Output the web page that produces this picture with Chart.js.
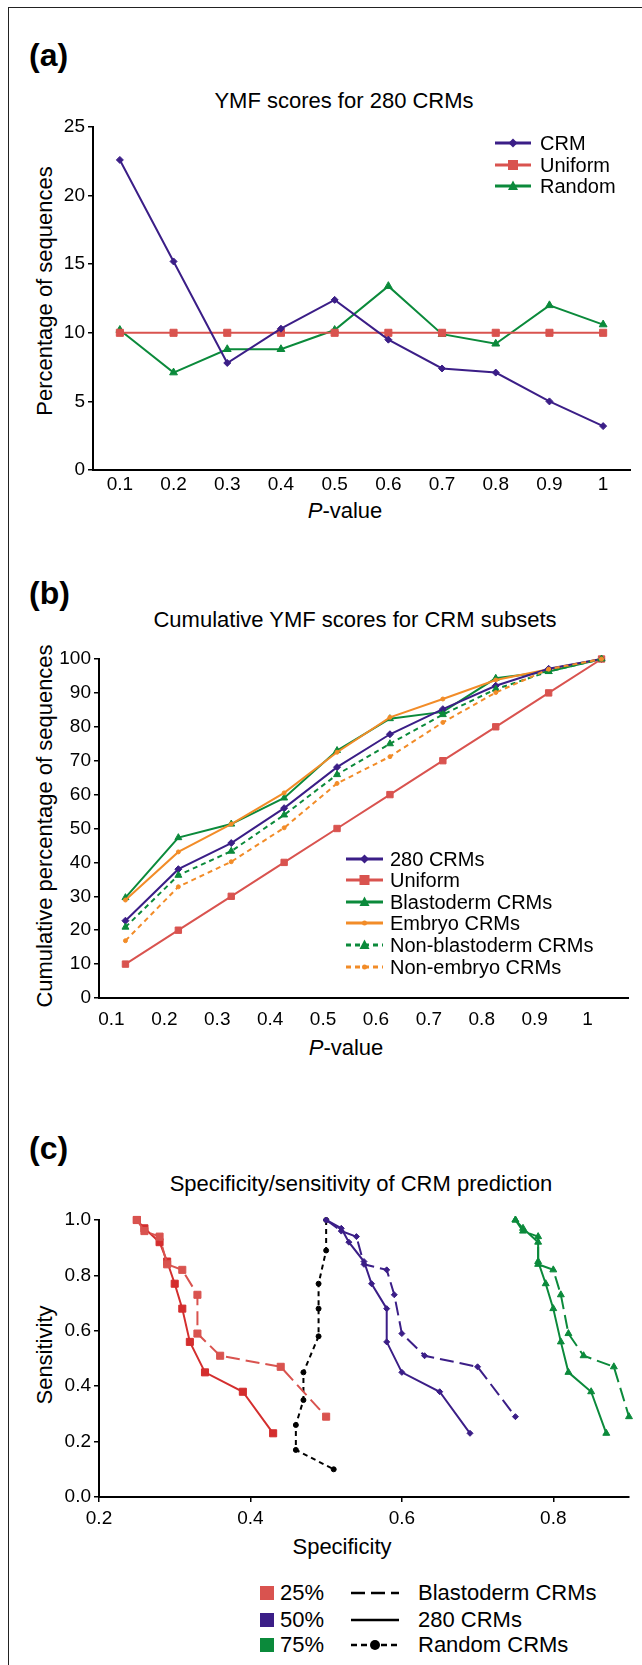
<!DOCTYPE html>
<html>
<head>
<meta charset="utf-8">
<title>YMF scores and CRM prediction</title>
<style>
  body { margin: 0; background: #fff; font-family: 'Liberation Sans', Arial, sans-serif; color: #000; }
  #page { position: relative; width: 642px; height: 1665px; overflow: hidden; }
  #frame { position: absolute; left: 8px; top: 7px; width: 700px; height: 1700px;
           border-left: 1.5px solid #222; border-top: 1.5px solid #222; }
  canvas { position: absolute; left: 0; }
  .txt { position: absolute; transform: translate(-50%, -50%); white-space: nowrap; line-height: 1; font-size: 22px; }
  .panel { position: absolute; font-weight: bold; font-size: 32px; line-height: 1; transform: translateY(-50%); }
  .ytitle { transform: translate(-50%, -50%) rotate(-90deg); }
  .leg { position: absolute; display: flex; align-items: center; white-space: nowrap; line-height: 1; transform: translateY(-50%); }
  .leg svg { display: block; }
</style>
</head>
<body>
<div id="page">
  <div id="frame"></div>

  <div class="panel" style="left:29px; top:55px;">(a)</div>
  <div class="txt" style="left:344px; top:101px;">YMF scores for 280 CRMs</div>
  <div class="txt ytitle" style="left:45px; top:291px;">Percentage of sequences</div>
  <div class="txt" style="left:345px; top:511px;"><i>P</i>-value</div>
  <canvas id="chartA" width="642" height="440" style="top:110px;"></canvas>

  <div class="panel" style="left:29px; top:593px;">(b)</div>
  <div class="txt" style="left:355px; top:620px;">Cumulative YMF scores for CRM subsets</div>
  <div class="txt ytitle" style="left:45px; top:826px;">Cumulative percentage of sequences</div>
  <div class="txt" style="left:346px; top:1048px;"><i>P</i>-value</div>
  <canvas id="chartB" width="642" height="440" style="top:630px;"></canvas>

  <div class="panel" style="left:29px; top:1148px;">(c)</div>
  <div class="txt" style="left:361px; top:1184px;">Specificity/sensitivity of CRM prediction</div>
  <div class="txt ytitle" style="left:45px; top:1355px;">Sensitivity</div>
  <div class="txt" style="left:342px; top:1547px;">Specificity</div>
  <canvas id="chartC" width="642" height="340" style="top:1200px;"></canvas>

  <div id="legends"></div>
</div>

<script src="https://cdn.jsdelivr.net/npm/chart.js"></script>
<script>
  // (a) YMF scores for 280 CRMs
  const pValues = ['0.1', '0.2', '0.3', '0.4', '0.5', '0.6', '0.7', '0.8', '0.9', '1'];
  const crmPct = [22.6, 15.2, 7.8, 10.3, 12.4, 9.5, 7.4, 7.1, 5.0, 3.2];
  const uniformPct = [10, 10, 10, 10, 10, 10, 10, 10, 10, 10];
  const randomPct = [10.2, 7.1, 8.8, 8.8, 10.2, 13.4, 9.9, 9.2, 12.0, 10.6];

  // (b) cumulative scores for CRM subsets
  const cum280 = [22.8, 38.0, 45.7, 56.0, 68.1, 77.8, 85.2, 92.1, 97.1, 100];
  const cumUniform = [10, 20, 30, 40, 50, 60, 70, 80, 90, 100];
  const cumBlastoderm = [29.6, 47.3, 51.3, 59.0, 73.0, 82.4, 84.4, 94.3, 96.3, 100];
  const cumEmbryo = [28.9, 43.1, 51.3, 60.5, 72.5, 82.8, 88.2, 93.8, 97.0, 100];
  const cumNonBlastoderm = [20.9, 36.2, 43.3, 54.0, 65.9, 75.0, 83.6, 91.1, 96.3, 100];
  const cumNonEmbryo = [16.9, 32.8, 40.2, 50.2, 63.3, 71.2, 81.3, 90.1, 97.0, 100];

  // (c) specificity / sensitivity
  const sensAll = [1.00, 0.97, 0.92, 0.85, 0.77, 0.68, 0.56, 0.45, 0.38, 0.23];
  const sensBlasto = [1.00, 0.96, 0.94, 0.84, 0.82, 0.73, 0.59, 0.51, 0.47, 0.29];
  const spec25All = [0.25, 0.26, 0.28, 0.29, 0.30, 0.31, 0.32, 0.34, 0.39, 0.43];
  const spec25Blasto = [0.25, 0.26, 0.28, 0.29, 0.31, 0.33, 0.33, 0.36, 0.44, 0.50];
  const spec50All = [0.50, 0.52, 0.53, 0.55, 0.56, 0.58, 0.58, 0.60, 0.65, 0.69];
  const spec50Blasto = [0.50, 0.52, 0.54, 0.55, 0.58, 0.59, 0.60, 0.63, 0.70, 0.75];
  const spec75All = [0.75, 0.76, 0.78, 0.78, 0.79, 0.80, 0.81, 0.82, 0.85, 0.87];
  const spec75Blasto = [0.75, 0.76, 0.78, 0.78, 0.80, 0.81, 0.82, 0.84, 0.88, 0.90];
  const specRandom = [0.50, 0.50, 0.49, 0.49, 0.49, 0.47, 0.47, 0.46, 0.46, 0.51];
  const sensRandom = [1.00, 0.89, 0.77, 0.68, 0.58, 0.45, 0.35, 0.26, 0.17, 0.10];
  const cSpecTicks = [0.2, 0.4, 0.6, 0.8];
  const cSensTicks = [0, 0.2, 0.4, 0.6, 0.8, 1.0];

  const PURPLE = '#3b1e87';
  const RED = '#d9534f';
  const RED_DARK = '#d42e2e';
  const GREEN = '#0b8a3b';
  const ORANGE = '#f28c28';

  const tickFont = { family: "'Liberation Sans', Arial, sans-serif", size: 19 };
  const pts = (xs, ys) => xs.map((x, i) => ({ x: x, y: ys[i] }));

  function yAxis(min, max, step, width, extra) {
    return Object.assign({
      min: min, max: max,
      ticks: { stepSize: step, color: '#000', font: tickFont, padding: 3 },
      grid: { drawOnChartArea: false, tickLength: 5, color: '#000', lineWidth: 1.5 },
      border: { color: '#000', width: 2 },
      afterFit: s => { s.width = width; }
    }, extra || {});
  }

  function baseOptions(padding, scales) {
    return {
      responsive: false,
      animation: false,
      layout: { padding: padding },
      plugins: { legend: { display: false }, tooltip: { enabled: false } },
      scales: scales
    };
  }

  function line(label, data, color, style, radius, dash, width) {
    return {
      label: label, data: data,
      borderColor: color, backgroundColor: color,
      pointStyle: style, pointRadius: radius, pointBorderWidth: 1,
      borderWidth: width || 2, borderDash: dash || [],
      tension: 0, clip: false, showLine: true
    };
  }

  // ----- chart (a)
  new Chart(document.getElementById('chartA'), {
    type: 'line',
    data: {
      labels: pValues,
      datasets: [
        line('CRM', crmPct, PURPLE, 'rectRot', 3.5),
        line('Uniform', uniformPct, RED, 'rect', 5),
        line('Random', randomPct, GREEN, 'triangle', 4.5)
      ]
    },
    options: baseOptions({ left: 0, right: 12, top: 17, bottom: 0 }, {
      x: {
        offset: true,
        grid: { display: false, drawTicks: false },
        border: { color: '#000', width: 2 },
        ticks: { color: '#000', font: tickFont, padding: 3, maxRotation: 0, autoSkip: false },
        afterFit: s => { s.height = 80; }
      },
      y: yAxis(0, 25, 5, 93)
    })
  });

  // ----- chart (b)
  new Chart(document.getElementById('chartB'), {
    type: 'line',
    data: {
      labels: pValues,
      datasets: [
        line('Non-embryo CRMs', cumNonEmbryo, ORANGE, 'circle', 2, [5, 4]),
        line('Non-blastoderm CRMs', cumNonBlastoderm, GREEN, 'triangle', 4, [5, 4]),
        line('Uniform', cumUniform, RED, 'rect', 4.5),
        line('280 CRMs', cum280, PURPLE, 'rectRot', 3.5),
        line('Embryo CRMs', cumEmbryo, ORANGE, 'circle', 2),
        line('Blastoderm CRMs', cumBlastoderm, GREEN, 'triangle', 4)
      ]
    },
    options: baseOptions({ left: 0, right: 14, top: 29, bottom: 0 }, {
      x: {
        offset: true,
        grid: { display: false, drawTicks: false },
        border: { color: '#000', width: 2 },
        ticks: { color: '#000', font: tickFont, padding: 10, labelOffset: -14, maxRotation: 0, autoSkip: false },
        afterFit: s => { s.height = 72; }
      },
      y: yAxis(0, 100, 10, 99)
    })
  });

  // ----- chart (c)
  new Chart(document.getElementById('chartC'), {
    type: 'scatter',
    data: {
      datasets: [
        line('25% Blastoderm', pts(spec25Blasto, sensBlasto), RED, 'rect', 5, [14, 6]),
        line('25% 280', pts(spec25All, sensAll), RED_DARK, 'rect', 5),
        line('50% Blastoderm', pts(spec50Blasto, sensBlasto), PURPLE, 'rectRot', 3, [14, 6]),
        line('50% 280', pts(spec50All, sensAll), PURPLE, 'rectRot', 3),
        line('75% Blastoderm', pts(spec75Blasto, sensBlasto), GREEN, 'triangle', 4, [14, 6]),
        line('75% 280', pts(spec75All, sensAll), GREEN, 'triangle', 4),
        line('Random CRMs', pts(specRandom, sensRandom), '#000', 'circle', 2.5, [5, 4])
      ]
    },
    options: baseOptions({ left: 0, right: 13, top: 20, bottom: 0 }, {
      x: {
        type: 'linear', min: 0.2, max: 0.9,
        afterBuildTicks: s => { s.ticks = cSpecTicks.map(v => ({ value: v })); },
        ticks: { color: '#000', font: tickFont, padding: 5, maxRotation: 0, callback: v => v.toFixed(1) },
        grid: { drawOnChartArea: false, tickLength: 5, color: '#000', lineWidth: 1.5 },
        border: { color: '#000', width: 2 },
        afterFit: s => { s.height = 43; }
      },
      y: yAxis(0, 1, 0.2, 99, {
        afterBuildTicks: s => { s.ticks = cSensTicks.map(v => ({ value: v })); },
        ticks: { color: '#000', font: tickFont, padding: 3, callback: v => v.toFixed(1) }
      })
    })
  });

  // ----- legends (html)
  function marker(shape, color, cx, cy) {
    if (shape === 'diamond') return `<polygon points="${cx},${cy-4.5} ${cx+4.5},${cy} ${cx},${cy+4.5} ${cx-4.5},${cy}" fill="${color}"/>`;
    if (shape === 'square') return `<rect x="${cx-5}" y="${cy-5}" width="10" height="10" fill="${color}"/>`;
    if (shape === 'triangle') return `<polygon points="${cx},${cy-5.5} ${cx+5},${cy+4} ${cx-5},${cy+4}" fill="${color}"/>`;
    if (shape === 'dot') return `<circle cx="${cx}" cy="${cy}" r="2.5" fill="${color}"/>`;
    if (shape === 'circle') return `<circle cx="${cx}" cy="${cy}" r="5" fill="${color}"/>`;
    return '';
  }

  function sample(w, color, shape, dash, lw) {
    const d = dash ? ` stroke-dasharray="${dash}"` : '';
    return `<svg width="${w}" height="14"><line x1="0" y1="7" x2="${w}" y2="7" stroke="${color}" stroke-width="${lw}"${d}/>` +
      marker(shape, color, w / 2, 7) + '</svg>';
  }

  const legends = document.getElementById('legends');
  function addRow(x, y, svg, text, gap, size) {
    const div = document.createElement('div');
    div.className = 'leg';
    div.style.left = x + 'px';
    div.style.top = y + 'px';
    div.style.fontSize = size + 'px';
    div.innerHTML = svg + `<span style="margin-left:${gap}px">${text}</span>`;
    legends.appendChild(div);
  }

  const legA = [
    ['CRM', PURPLE, 'diamond', null],
    ['Uniform', RED, 'square', null],
    ['Random', GREEN, 'triangle', null]
  ];
  const legAY = [143, 165, 186];
  legA.forEach((it, i) => addRow(495, legAY[i], sample(36, it[1], it[2], it[3], 3), it[0], 9, 20));

  const legB = [
    ['280 CRMs', PURPLE, 'diamond', null],
    ['Uniform', RED, 'square', null],
    ['Blastoderm CRMs', GREEN, 'triangle', null],
    ['Embryo CRMs', ORANGE, 'dot', null],
    ['Non-blastoderm CRMs', GREEN, 'triangle', '5 4'],
    ['Non-embryo CRMs', ORANGE, 'dot', '5 4']
  ];
  const legBY = [859, 880, 902, 923, 945, 967];
  legB.forEach((it, i) => addRow(346, legBY[i], sample(37, it[1], it[2], it[3], 3), it[0], 7, 20));

  // (c): colour key and line-style key
  const legCY = [1593, 1620, 1645];
  const legCColors = [['25%', RED], ['50%', PURPLE], ['75%', GREEN]];
  legCColors.forEach((it, i) => {
    addRow(260, legCY[i], `<svg width="14" height="14"><rect x="0" y="0" width="14" height="14" fill="${it[1]}"/></svg>`, it[0], 6, 22);
  });
  const legCStyles = [
    ['Blastoderm CRMs', '', '14 6'],
    ['280 CRMs', '', null],
    ['Random CRMs', 'circle', '6 4']
  ];
  legCStyles.forEach((it, i) => addRow(351, legCY[i], sample(48, '#000', it[1], it[2], 2.5), it[0], 19, 22));
</script>
</body>
</html>
